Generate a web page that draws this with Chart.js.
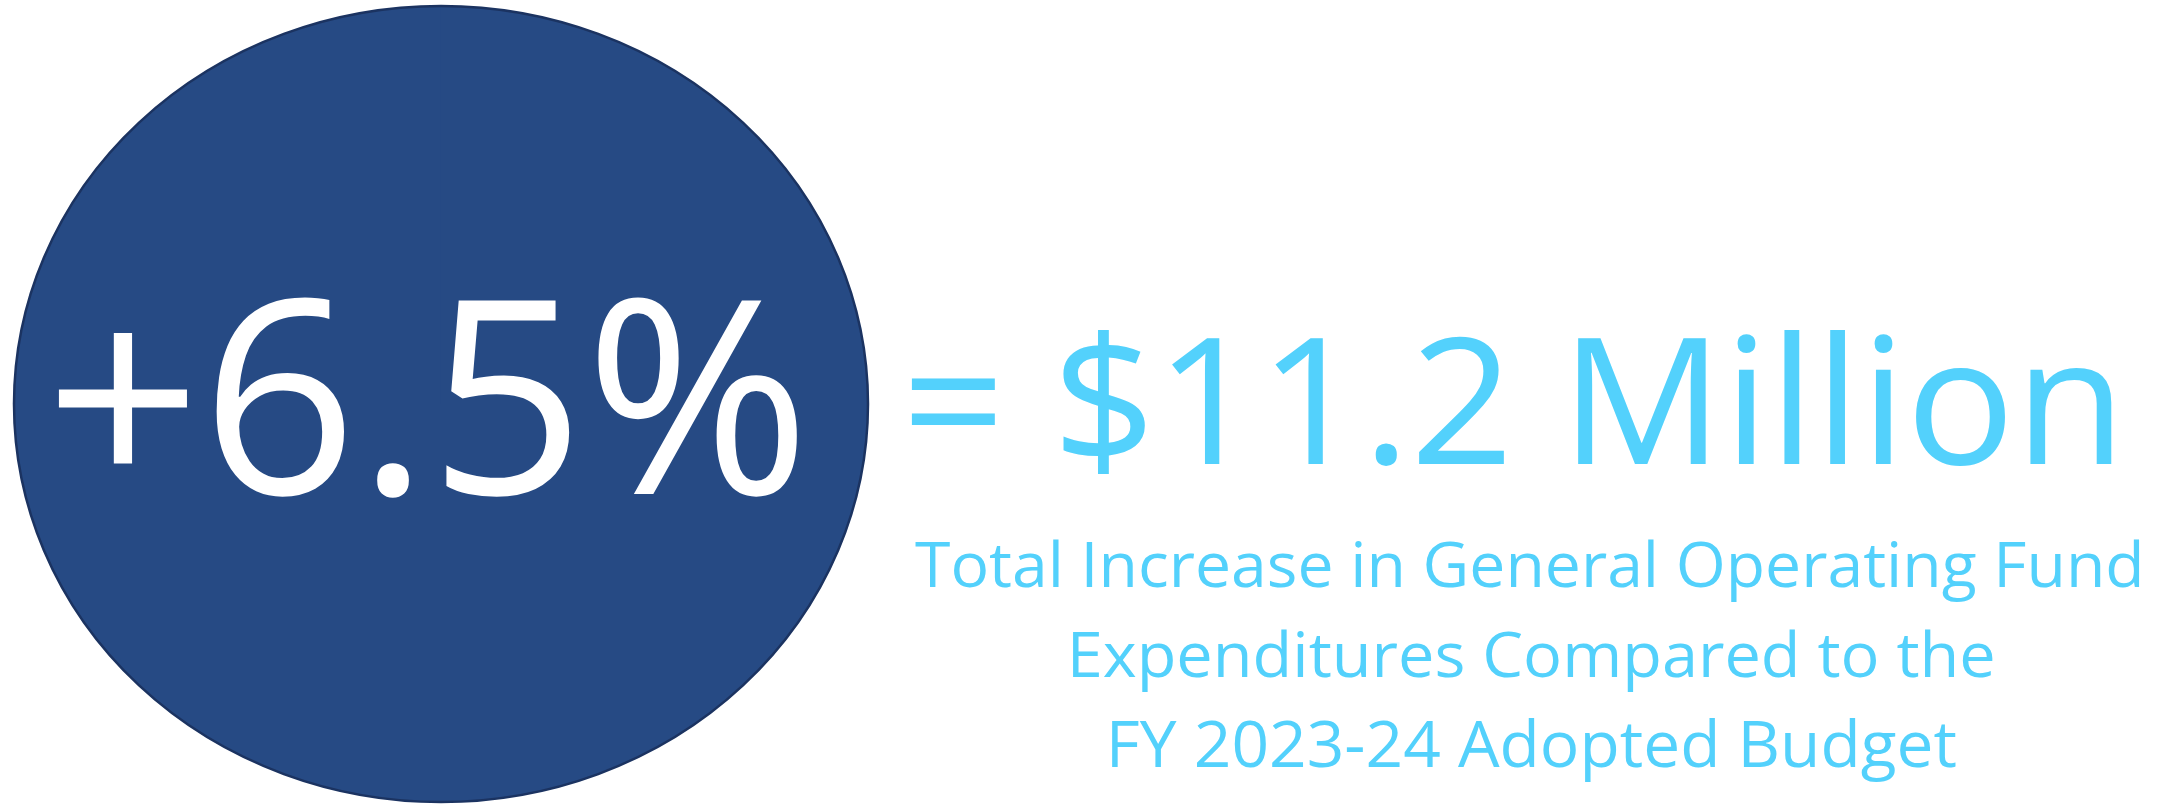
<!DOCTYPE html>
<html>
<head>
<meta charset="utf-8">
<script src="https://cdn.jsdelivr.net/npm/chart.js@4"></script>
<style>
	html, body { margin: 0; padding: 0; background: #fff; }
	#wrap { width: 2162px; height: 804px; position: relative; }
</style>
</head>
<body>
<div id="wrap"><canvas id="increaseChart"></canvas></div>
<script>
// data
const categories = ['General Operating Fund increase'];
const percentIncrease = [6.5];          // %
const dollarIncrease = [11.2];          // $ million
const subtitleLines = [
	'Total Increase in General Operating Fund',
	'Expenditures Compared to the',
	'FY 2023-24 Adopted Budget'
];

const FONT = '"Open Sans", "Noto Sans", sans-serif';
const NAVY = '#264A84';
const CYAN = '#53D1FC';

// Helper: draw text fitted between left/right with a given cap top and baseline
function fitText(ctx, text, left, right, capTop, baseline, color, weight) {
	ctx.save();
	ctx.font = weight + ' 100px ' + FONT;
	const cap = ctx.measureText('H').actualBoundingBoxAscent;
	const size = 100 * (baseline - capTop) / cap;
	ctx.font = weight + ' ' + size + 'px ' + FONT;
	const m = ctx.measureText(text);
	const w = m.actualBoundingBoxLeft + m.actualBoundingBoxRight;
	const sx = (right - left) / w;
	ctx.translate(left, baseline);
	ctx.scale(sx, 1);
	ctx.fillStyle = color;
	ctx.textBaseline = 'alphabetic';
	ctx.textAlign = 'left';
	ctx.fillText(text, m.actualBoundingBoxLeft, 0);
	ctx.restore();
}

// stretch the single pie slice into an ellipse filling the chart area
const ellipsePlugin = {
	id: 'ellipse',
	beforeDatasetsDraw(chart) {
		const arc = chart.getDatasetMeta(0).data[0];
		const a = chart.chartArea;
		const ctx = chart.ctx;
		ctx.save();
		ctx.translate(arc.x, arc.y);
		ctx.scale((a.width / 2) / arc.outerRadius, (a.height / 2) / arc.outerRadius);
		ctx.translate(-arc.x, -arc.y);
	},
	afterDatasetsDraw(chart) {
		const ctx = chart.ctx;
		ctx.restore();
		const arc = chart.getDatasetMeta(0).data[0];
		const a = chart.chartArea;
		ctx.save();
		ctx.beginPath();
		ctx.ellipse(arc.x, arc.y, a.width / 2, a.height / 2, 0, 0, Math.PI * 2);
		ctx.lineWidth = 2.5;
		ctx.strokeStyle = '#1B3361';
		ctx.stroke();
		ctx.restore();
	}
};

const textPlugin = {
	id: 'infoText',
	afterDraw(chart) {
		const ctx = chart.ctx;
		fitText(ctx, '+' + percentIncrease[0].toFixed(1) + '%', 58, 798, 296, 494, '#FFFFFF', 500);
		fitText(ctx, '= $' + dollarIncrease[0].toFixed(1) + ' Million', 911, 2112, 336, 464, CYAN, 500);
		fitText(ctx, subtitleLines[0], 915, 2140, 541, 587, CYAN, 500);
		fitText(ctx, subtitleLines[1], 1073, 1993, 632, 677, CYAN, 500);
		fitText(ctx, subtitleLines[2], 1112, 1956, 720, 767, CYAN, 500);
	}
};

new Chart(document.getElementById('increaseChart'), {
	type: 'pie',
	data: {
		labels: categories,
		datasets: [{
			data: percentIncrease,
			backgroundColor: NAVY,
			borderWidth: 0,
			hoverOffset: 0
		}]
	},
	options: {
		responsive: true,
		maintainAspectRatio: false,
		animation: false,
		events: [],
		layout: { padding: { left: 14, right: 1294, top: 6, bottom: 2 } },
		plugins: { legend: { display: false }, tooltip: { enabled: false } }
	},
	plugins: [ellipsePlugin, textPlugin]
});
</script>
</body>
</html>
